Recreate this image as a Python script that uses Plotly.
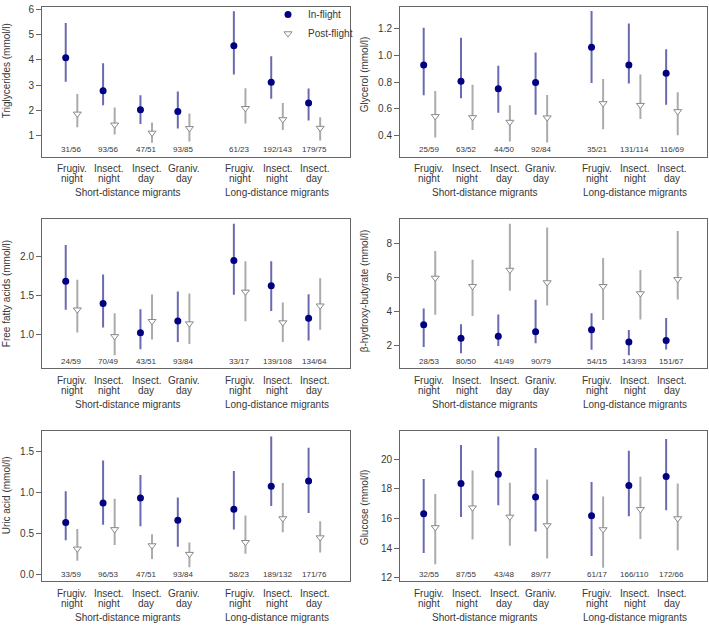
import plotly.graph_objects as go

# ---------------- data ----------------
categories = ["Frugiv.\nnight", "Insect.\nnight", "Insect.\nday", "Graniv.\nday",
              "Frugiv.\nnight", "Insect.\nnight", "Insect.\nday"]
cat_group = [0, 0, 0, 0, 1, 1, 1]
groups = ["Short-distance migrants", "Long-distance migrants"]
series_names = ["In-flight", "Post-flight"]

titles = ["Triglycerides (mmol/l)", "Glycerol (mmol/l)", "Free fatty acids (mmol/l)",
          "β-hydroxy-butyrate (mmol/l)", "Uric acid (mmol/l)", "Glucose (mmol/l)"]

trig_in_mean = [4.08, 2.78, 2.03, 1.96, 4.55, 3.12, 2.30]
trig_in_lo = [3.13, 2.21, 1.47, 1.29, 3.42, 2.47, 1.61]
trig_in_hi = [5.45, 3.86, 2.60, 2.75, 5.91, 4.14, 2.87]
trig_post_mean = [1.87, 1.44, 1.12, 1.30, 2.09, 1.65, 1.31]
trig_post_lo = [1.34, 1.06, 0.73, 0.78, 1.49, 1.23, 0.82]
trig_post_hi = [2.65, 2.12, 1.53, 1.88, 2.88, 2.30, 1.74]
trig_n = ["31/56", "93/56", "47/51", "93/85", "61/23", "192/143", "179/75"]

glyc_in_mean = [0.927, 0.805, 0.750, 0.797, 1.061, 0.927, 0.865]
glyc_in_lo = [0.700, 0.678, 0.569, 0.554, 0.793, 0.788, 0.629]
glyc_in_hi = [1.207, 1.133, 0.922, 1.021, 1.334, 1.240, 1.046]
glyc_post_mean = [0.542, 0.534, 0.499, 0.532, 0.639, 0.626, 0.579]
glyc_post_lo = [0.383, 0.440, 0.353, 0.345, 0.445, 0.522, 0.400]
glyc_post_hi = [0.733, 0.780, 0.626, 0.703, 0.822, 0.857, 0.723]
glyc_n = ["25/59", "63/52", "44/50", "92/84", "35/21", "131/114", "116/69"]

ffa_in_mean = [1.679, 1.397, 1.021, 1.173, 1.945, 1.624, 1.207]
ffa_in_lo = [1.316, 1.089, 0.810, 0.903, 1.506, 1.300, 0.924]
ffa_in_hi = [2.143, 1.768, 1.321, 1.549, 2.414, 1.937, 1.515]
ffa_post_mean = [1.316, 0.975, 1.169, 1.139, 1.544, 1.152, 1.367]
ffa_post_lo = [1.025, 0.734, 0.937, 0.878, 1.169, 0.903, 1.059]
ffa_post_hi = [1.700, 1.270, 1.510, 1.523, 1.937, 1.409, 1.717]
ffa_n = ["24/59", "70/49", "43/51", "93/84", "33/17", "139/108", "134/64"]

bhb_in_mean = [3.22, 2.41, 2.53, 2.80, 2.92, 2.20, 2.29]
bhb_in_lo = [1.90, 1.53, 1.96, 2.12, 1.73, 1.41, 1.75]
bhb_in_hi = [4.18, 3.25, 3.82, 4.69, 3.90, 2.90, 3.61]
bhb_post_mean = [5.98, 5.49, 6.45, 5.71, 5.49, 5.06, 5.90]
bhb_post_lo = [3.80, 3.73, 5.22, 4.35, 3.49, 3.53, 4.71]
bhb_post_hi = [7.57, 7.06, 9.18, 8.96, 7.16, 6.45, 8.76]
bhb_n = ["28/53", "80/50", "41/49", "90/79", "54/15", "143/93", "151/67"]

uric_in_mean = [0.632, 0.869, 0.929, 0.660, 0.792, 1.074, 1.138]
uric_in_lo = [0.414, 0.603, 0.587, 0.334, 0.547, 0.833, 0.748]
uric_in_hi = [1.014, 1.388, 1.211, 0.937, 1.259, 1.681, 1.545]
uric_post_mean = [0.310, 0.547, 0.350, 0.245, 0.390, 0.680, 0.447]
uric_post_lo = [0.165, 0.358, 0.185, 0.084, 0.249, 0.511, 0.265]
uric_post_hi = [0.551, 0.921, 0.487, 0.386, 0.716, 1.114, 0.648]
uric_n = ["33/59", "96/53", "47/51", "93/84", "58/23", "189/132", "171/76"]

gluc_in_mean = [16.32, 18.35, 18.97, 17.44, 16.17, 18.22, 18.82]
gluc_in_lo = [13.67, 16.10, 16.88, 15.12, 13.47, 16.14, 16.55]
gluc_in_hi = [18.66, 20.94, 21.52, 20.74, 18.46, 20.56, 21.36]
gluc_post_mean = [15.39, 16.72, 16.10, 15.52, 15.25, 16.61, 15.99]
gluc_post_lo = [12.91, 14.58, 14.16, 13.29, 12.67, 14.61, 13.85]
gluc_post_hi = [17.64, 19.22, 18.40, 18.62, 17.48, 18.80, 18.35]
gluc_n = ["32/55", "87/55", "43/48", "89/77", "61/17", "166/110", "172/66"]

panels = [
    (trig_in_mean, trig_in_lo, trig_in_hi, trig_post_mean, trig_post_lo, trig_post_hi, trig_n),
    (glyc_in_mean, glyc_in_lo, glyc_in_hi, glyc_post_mean, glyc_post_lo, glyc_post_hi, glyc_n),
    (ffa_in_mean, ffa_in_lo, ffa_in_hi, ffa_post_mean, ffa_post_lo, ffa_post_hi, ffa_n),
    (bhb_in_mean, bhb_in_lo, bhb_in_hi, bhb_post_mean, bhb_post_lo, bhb_post_hi, bhb_n),
    (uric_in_mean, uric_in_lo, uric_in_hi, uric_post_mean, uric_post_lo, uric_post_hi, uric_n),
    (gluc_in_mean, gluc_in_lo, gluc_in_hi, gluc_post_mean, gluc_post_lo, gluc_post_hi, gluc_n),
]

# ---------------- layout / style ----------------
W, H = 709, 626
NARROW = "Liberation Sans Narrow, Arial Narrow, Liberation Sans, Arial, sans-serif"
REG = "Liberation Sans, Arial, sans-serif"
TXT = "#383838"
FRAME = "#666666"
NAVY = "#000080"
IN_LINE = "#6a6ab0"
POST_LINE = "#ababab"
POST_EDGE = "#8a8a8a"

y_ranges = [[0.19, 6.08], [0.24, 1.364], [0.565, 2.477], [0.63, 9.47], [-0.088, 1.75], [11.75, 21.9]]
y_dticks = [1, 0.2, 0.5, 2, 0.5, 2]
y_formats = ["d", ".1f", ".1f", "d", ".1f", "d"]
x_range = [0.21, 8.44]
off = 0.155

# pixel boxes: (left, right, top, bottom)
col_lr = [(42, 349.5), (400, 707)]
row_tb = [(3, 154), (217, 368), (431, 583)]
ytitle_center = [68, 71, 293, 290, 496, 508]

xpos = [i + 1 + 0.5 * g for i, g in enumerate(cat_group)]
group_x = [sum(p for p, g in zip(xpos, cat_group) if g == k) / cat_group.count(k) for k in range(2)]

fig = go.Figure()
layout = dict(width=W, height=H, margin=dict(l=0, r=0, t=0, b=0),
              paper_bgcolor="white", plot_bgcolor="white",
              font=dict(family=NARROW, size=10, color=TXT))
annotations = []

for i, (im, il, ih, pm, pl, ph, nl) in enumerate(panels):
    r, c = divmod(i, 2)
    left, right = col_lr[c]
    top, bottom = row_tb[r]
    xa = "x" if i == 0 else f"x{i+1}"
    ya = "y" if i == 0 else f"y{i+1}"
    xkey = "xaxis" if i == 0 else f"xaxis{i+1}"
    ykey = "yaxis" if i == 0 else f"yaxis{i+1}"

    fig.add_trace(go.Scatter(
        x=[p - off for p in xpos], y=im, mode="markers", name=series_names[0],
        xaxis=xa, yaxis=ya, showlegend=(i == 0), legendrank=1,
        marker=dict(symbol="circle", size=7, color=NAVY, line=dict(width=0)),
        error_y=dict(type="data", symmetric=False,
                     array=[h - m for h, m in zip(ih, im)],
                     arrayminus=[m - l for m, l in zip(im, il)],
                     width=0, thickness=2, color=IN_LINE)))
    fig.add_trace(go.Scatter(
        x=[p + off for p in xpos], y=pm, mode="markers", name=series_names[1],
        xaxis=xa, yaxis=ya, showlegend=(i == 0), legendrank=2,
        marker=dict(symbol="triangle-down", size=7, color="white",
                    line=dict(width=1, color=POST_EDGE)),
        error_y=dict(type="data", symmetric=False,
                     array=[h - m for h, m in zip(ph, pm)],
                     arrayminus=[m - l for m, l in zip(pm, pl)],
                     width=0, thickness=2, color=POST_LINE)))

    layout[xkey] = dict(domain=[left / W, right / W], range=x_range, anchor=ya,
                        showline=True, mirror=True, linecolor=FRAME, linewidth=1,
                        showgrid=False, zeroline=False, ticks="", showticklabels=False,
                        fixedrange=True)
    layout[ykey] = dict(domain=[1 - bottom / H, 1 - top / H], range=y_ranges[i], anchor=xa,
                        showline=True, mirror=True, linecolor=FRAME, linewidth=1,
                        showgrid=False, zeroline=False, ticks="outside", ticklen=5,
                        tickcolor=FRAME, tickwidth=1, dtick=y_dticks[i], tick0=0,
                        tickformat=y_formats[i], ticklabeloverflow="allow",
                        tickfont=dict(family=NARROW, size=10, color=TXT), fixedrange=True)

    # y-axis title
    annotations.append(dict(text=titles[i], xref="paper", yref="paper",
                            x=(left - 36) / W, y=1 - ytitle_center[i] / H,
                            xanchor="center", yanchor="middle", textangle=-90,
                            showarrow=False, font=dict(family=REG, size=10, color=TXT)))
    # sample sizes inside box bottom
    for p, n in zip(xpos, nl):
        annotations.append(dict(text=n, xref=xa, yref=f"{ya} domain", x=p, y=0.045,
                                xanchor="center", yanchor="middle", showarrow=False,
                                font=dict(family=NARROW, size=8, color=TXT)))
    # category labels (two lines)
    for p, lab in zip(xpos, categories):
        for k, line in enumerate(lab.split("\n")):
            annotations.append(dict(text=line, xref=xa, yref="paper", x=p,
                                    y=1 - (bottom + 12 + 10 * k) / H,
                                    xanchor="center", yanchor="middle", showarrow=False,
                                    font=dict(family=NARROW, size=10, color=TXT)))
    for gx, g in zip(group_x, groups):
        annotations.append(dict(text=g, xref=xa, yref="paper", x=gx,
                                y=1 - (bottom + 36) / H,
                                xanchor="center", yanchor="middle", showarrow=False,
                                font=dict(family=NARROW, size=10, color=TXT)))

layout["annotations"] = annotations
layout["legend"] = dict(x=268 / W, y=1 + 4 / H, xanchor="left", yanchor="top",
                        bgcolor="rgba(0,0,0,0)", borderwidth=0, itemwidth=30,
                        font=dict(family=NARROW, size=10, color=TXT), tracegroupgap=0)
fig.update_layout(**layout)
fig.write_html("out.html")
